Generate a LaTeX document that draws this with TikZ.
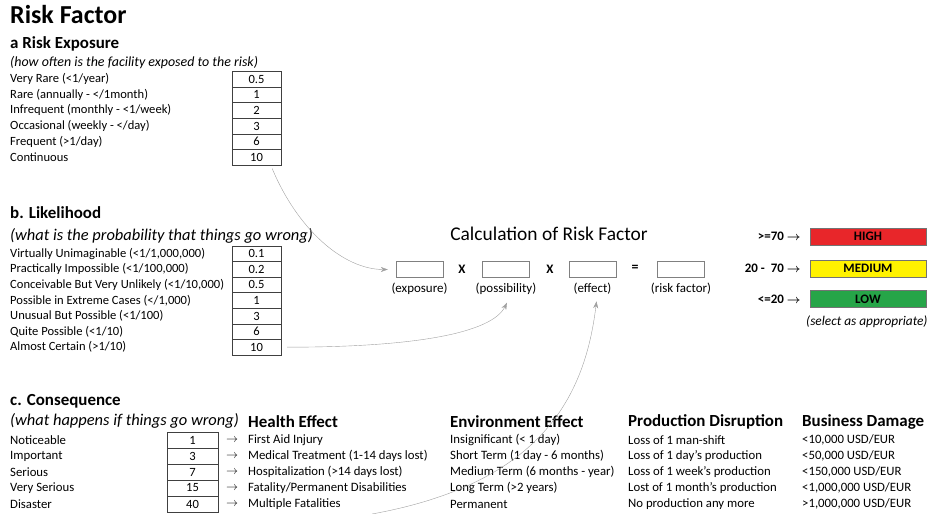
\documentclass[tikz,border=0pt]{standalone}
\usepackage{fontspec}
\setmainfont{Carlito}
\usepackage{tikz}
\usetikzlibrary{arrows.meta,positioning}
\definecolor{riskred}{HTML}{E8262A}
\definecolor{riskyellow}{HTML}{FFF200}
\definecolor{riskgreen}{HTML}{26A548}
\definecolor{linkgray}{HTML}{A0A0A0}
\newcommand\fsz[1]{\fontsize{#1}{#1}\selectfont}
\tikzset{
    line width=0.6bp,
    maintitle/.style={anchor=west, inner sep=0pt, font=\bfseries\fsz{26}},
    sechead/.style={anchor=west, inner sep=0pt, font=\bfseries\fsz{17}},
    itnote/.style={anchor=west, inner sep=0pt, font=\itshape\fsz{14}},
    bignote/.style={anchor=west, inner sep=0pt, font=\itshape\fsz{16.5}},
    rowlbl/.style={anchor=west, inner sep=0pt, font=\fsz{12.6}},
    itemlbl/.style={anchor=west, inner sep=0pt, font=\fsz{12.8}},
    valbox/.style={draw=black!75, minimum width=49bp, minimum height=15.7bp, inner sep=0pt, font=\fsz{12.6}},
    calcbox/.style={draw=black!50, minimum width=47bp, minimum height=16bp, inner sep=0pt},
    calclbl/.style={inner sep=0pt, font=\fsz{13}},
    ratebar/.style={draw=black!55, minimum width=116bp, minimum height=17bp, inner sep=0pt, font=\bfseries\fsz{13}},
    ratelbl/.style={inner sep=0pt, font=\bfseries\boldmath\fsz{13}},
    link/.style={linkgray, -{Stealth[length=7bp,width=5bp]}}
}
\begin{document}
\begin{tikzpicture}[x=1bp, y=-1bp]
\useasboundingbox (0,0) rectangle (933,514);
\node[maintitle] (title) at (10,15) {Risk Factor};

% a. exposure
\node[sechead] (hexp) at (10,44) {a Risk Exposure};
\node[itnote] (nexp) at (10,63) {(how often is the facility exposed to the risk)};
\foreach \lab/\val [count=\i] in {{Very Rare (<1/year)}/0.5,{Rare (annually - </1month)}/1,{Infrequent (monthly - <1/week)}/2,{Occasional (weekly - </day)}/3,{Frequent (>1/day)}/6,{Continuous}/10} {
  \node[rowlbl] (elab\i) at (10,{63.3+15.7*\i}) {\lab};
  \node[valbox] (exp\i) at (256.5,{63.3+15.7*\i}) {\val};
}

% b. likelihood
\node[sechead] (hlik) at (10,213) {b. Likelihood};
\node[bignote] (nlik) at (10,236) {(what is the probability that things go wrong)};
\foreach \lab/\val [count=\i] in {{Virtually Unimaginable (<1/1,000,000)}/0.1,{Practically Impossible (<1/100,000)}/0.2,{Conceivable But Very Unlikely (<1/10,000)}/0.5,{Possible in Extreme Cases (</1,000)}/1,{Unusual But Possible (<1/100)}/3,{Quite Possible (<1/10)}/6,{Almost Certain (>1/10)}/10} {
  \node[rowlbl] (llab\i) at (10,{238.2+15.57*\i}) {\lab};
  \node[valbox, minimum height=15.57bp] (lik\i) at (256.5,{238.2+15.57*\i}) {\val};
}

% c. consequence
\node[sechead] (hcon) at (10,401) {c. Consequence};
\node[bignote] (ncon) at (10,420.5) {(what happens if things go wrong)};
\node[sechead] (hhe) at (248,422) {Health Effect};
\node[sechead] (hee) at (450,422) {Environment Effect};
\node[sechead] (hpd) at (628,422) {Production Disruption};
\node[sechead] (hbd) at (802,422) {Business Damage};
\foreach \lab/\val/\he/\ee/\pd/\bd [count=\i] in {
  Noticeable/1/{First Aid Injury}/{Insignificant (< 1 day)}/{Loss of 1 man-shift}/{<10,000 USD/EUR},
  Important/3/{Medical Treatment (1-14 days lost)}/{Short Term (1 day - 6 months)}/{Loss of 1 day's production}/{<50,000 USD/EUR},
  Serious/7/{Hospitalization (>14 days lost)}/{Medium Term (6 months - year)}/{Loss of 1 week's production}/{<150,000 USD/EUR},
  {Very Serious}/15/{Fatality/Permanent Disabilities}/{Long Term (>2 years)}/{Lost of 1 month's production}/{<1,000,000 USD/EUR},
  Disaster/40/{Multiple Fatalities}/{Permanent}/{No production any more}/{>1,000,000 USD/EUR}} {
  \node[itemlbl] (clab\i) at (10,{424+16*\i}) {\lab};
  \node[valbox, minimum width=51bp, minimum height=16bp] (con\i) at (192.5,{424+16*\i}) {\val};
  \node[itemlbl] (carr\i) at (226,{424+16*\i}) {$\rightarrow$};
  \node[itemlbl] (che\i) at (248,{424+16*\i}) {\he};
  \node[itemlbl] (cee\i) at (450,{424+16*\i}) {\ee};
  \node[itemlbl] (cpd\i) at (628,{424+16*\i}) {\pd};
  \node[itemlbl] (cbd\i) at (802,{424+16*\i}) {\bd};
}

% calculation
\node[font=\fsz{19.5}, inner sep=0pt] (calc) at (549,234) {Calculation of Risk Factor};
\node[calcbox] (cexp) at (419.5,269.5) {};
\node[calcbox] (cpos) at (506,269.5) {};
\node[calcbox] (ceff) at (592.5,269.5) {};
\node[calcbox] (crf) at (681,269.5) {};
\node[font=\bfseries\fsz{13}] (times1) at (462,269) {X};
\node[font=\bfseries\fsz{13}] (times2) at (550,269) {X};
\node[font=\bfseries\fsz{14}] (equals) at (635,268) {=};
\node[calclbl, below=5bp of cexp] (lexp) {(exposure)};
\node[calclbl, below=5bp of cpos] (lpos) {(possibility)};
\node[calclbl, below=5bp of ceff] (leff) {(effect)};
\node[calclbl, below=5bp of crf] (lrf) {(risk factor)};

% rating
\node[ratebar, fill=riskred] (high) at (868,236.5) {HIGH};
\node[ratebar, fill=riskyellow] (medium) at (868,268.5) {MEDIUM};
\node[ratebar, fill=riskgreen] (low) at (868,299) {LOW};
\node[ratelbl, left=9bp of high] (lhigh) {>=70 $\rightarrow$};
\node[ratelbl, left=9bp of medium] (lmedium) {20 - \ 70 $\rightarrow$};
\node[ratelbl, left=9bp of low] (llow) {<=20 $\rightarrow$};
\node[itnote, font=\itshape\fsz{13.4}] (select) at (806,322) {(select as appropriate)};

% links
\coordinate (cstart) at (372,514);
\draw[link] ([xshift=-9bp,yshift=-3bp]exp6.south east) .. controls +(25,60) and +(-45,0) .. ([xshift=-8bp]cexp.west);
\draw[link] ([xshift=6bp]lik7.east) .. controls +(130,0) and +(-15,30) .. ([xshift=1bp,yshift=-8bp]lpos.south);
\draw[link] (cstart) .. controls +(165,-30) and +(-12,100) .. ([xshift=4bp,yshift=-7bp]leff.south);
\end{tikzpicture}
\end{document}
